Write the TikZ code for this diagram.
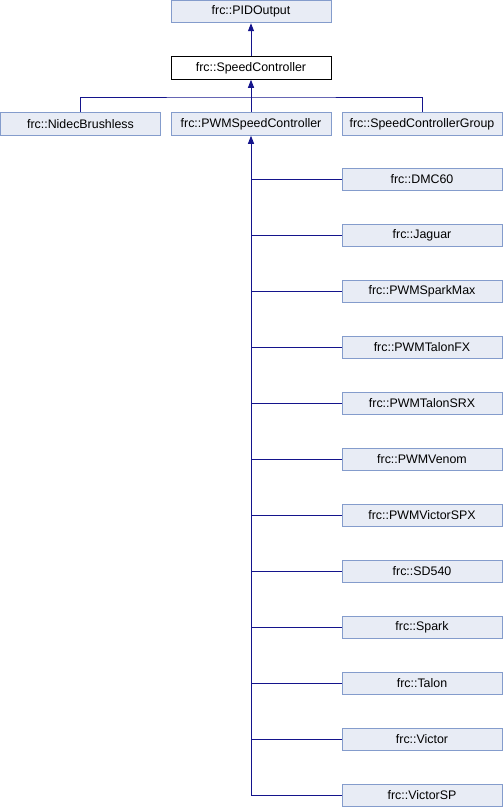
\documentclass[tikz,border=0pt]{standalone}
\usepackage{fontspec}
\setmainfont{Liberation Sans}
\usetikzlibrary{arrows.meta}
\definecolor{boxfill}{HTML}{E8ECF5}
\definecolor{boxline}{HTML}{849CCC}
\definecolor{conn}{HTML}{14148C}
\begin{document}
\begin{tikzpicture}[x=1pt,y=-1pt,
  cls/.style={draw=boxline,fill=boxfill,line width=1pt,minimum width=160pt,minimum height=22.5pt,inner sep=0pt,font=\fontsize{12.4}{14}\selectfont},
  cur/.style={cls,draw=black,fill=white},
  link/.style={draw=conn,line width=1pt},
  inh/.style={link,-{Triangle[width=6pt,length=8pt]}}]
\useasboundingbox (0,0) rectangle (503,808);
\node[cls] (pid) at (251,11.5) {frc::PIDOutput};
\node[cur] (sc) at (251,68) {frc::SpeedController};
\node[cls] (nb) at (80.5,124) {frc::NidecBrushless};
\node[cls] (pwm) at (251,124) {frc::PWMSpeedController};
\node[cls] (scg) at (422,124) {frc::SpeedControllerGroup};
\foreach \n/\t [count=\i from 0] in {dmc/DMC60,jag/Jaguar,spm/PWMSparkMax,tfx/PWMTalonFX,tsrx/PWMTalonSRX,ven/PWMVenom,vspx/PWMVictorSPX,sd/SD540,spk/Spark,tal/Talon,vic/Victor,vsp/VictorSP}{
  \node[cls] (\n) at (422,{179.5+56*\i}) {frc::\t};
}
\coordinate (bus) at (251,97);
\draw[inh] (sc.north) -- (pid.south);
\draw[inh] (pwm.north) -- (sc.south);
\draw[link] (nb.north) |- (bus) -| (scg.north);
\draw[inh] (vsp.west) -| (pwm.south);
\foreach \n in {dmc,jag,spm,tfx,tsrx,ven,vspx,sd,spk,tal,vic}{
  \draw[link] (\n.west) -- (\n.west -| pwm.south);
}
\end{tikzpicture}
\end{document}
